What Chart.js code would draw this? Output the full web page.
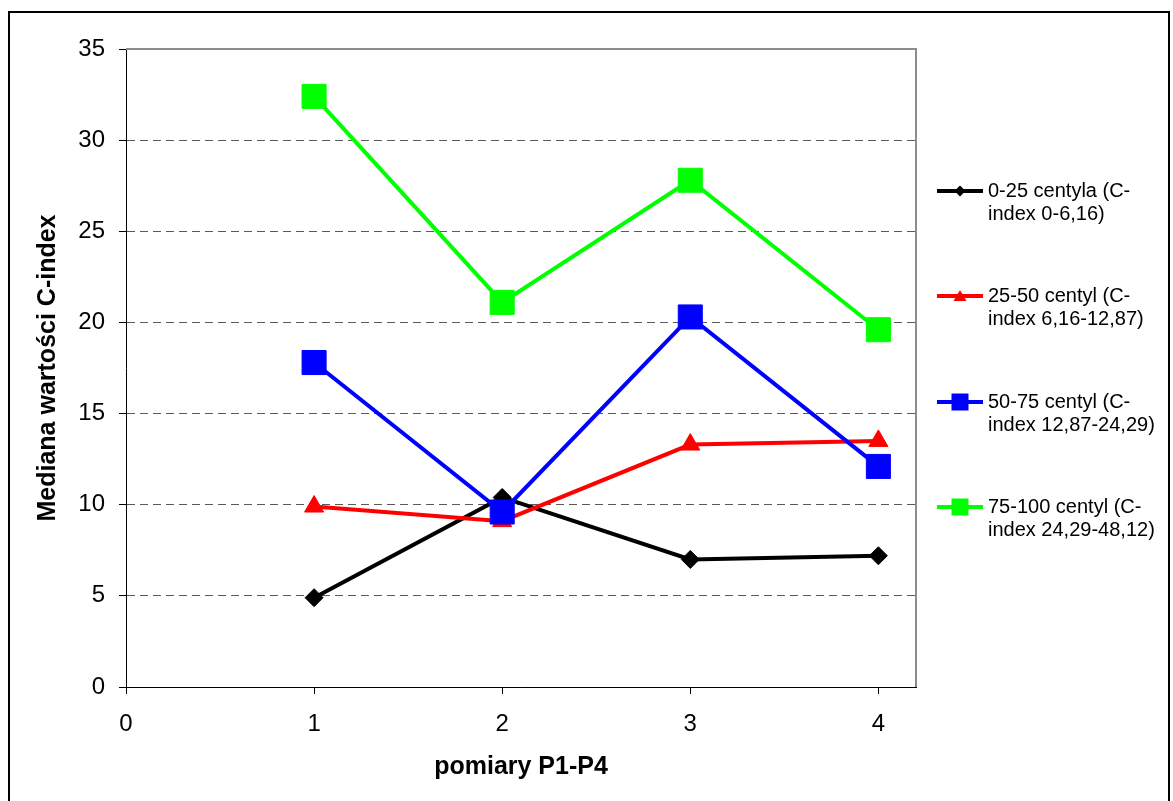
<!DOCTYPE html>
<html lang="pl">
<head>
<meta charset="utf-8">
<script src="https://cdn.jsdelivr.net/npm/chart.js@4/dist/chart.umd.min.js"></script>
<style>
  html, body { margin: 0; padding: 0; background: #fff; overflow: hidden; }
  #wrap { position: relative; width: 1173px; height: 801px; }
  #frame { position: absolute; left: 8px; top: 11px; width: 1162px; height: 830px; border: 2px solid #000; box-sizing: border-box; }
  #chart { position: absolute; left: 0; top: 0; }
  #legend { position: absolute; left: 937px; top: 0; font-family: "Liberation Sans", Arial, sans-serif; font-size: 20px; line-height: 23px; color: #000; }
  .item { position: absolute; left: 0; white-space: nowrap; }
  .item svg { position: absolute; left: 0; top: 0; }
  .item span { position: absolute; left: 51px; top: 0; }
</style>
</head>
<body>
<div id="wrap">
  <div id="frame"></div>
  <canvas id="chart" width="1173" height="801"></canvas>
  <div id="legend"></div>
</div>
<script>
// pomiary P1-P4, mediana C-index w grupach centylowych
const measurements = [1, 2, 3, 4];
const xTicks = [0, 1, 2, 3, 4];
const yTicks = [0, 5, 10, 15, 20, 25, 30, 35];

const c0_25 = [4.9, 10.4, 7.0, 7.2];
const c25_50 = [9.9, 9.1, 13.3, 13.5];
const c50_75 = [17.8, 9.6, 20.3, 12.1];
const c75_100 = [32.4, 21.1, 27.8, 19.6];

const labels0_25 = ["0-25 centyla (C-", "index 0-6,16)"];
const labels25_50 = ["25-50 centyl (C-", "index 6,16-12,87)"];
const labels50_75 = ["50-75 centyl (C-", "index 12,87-24,29)"];
const labels75_100 = ["75-100 centyl (C-", "index 24,29-48,12)"];

const FONT = "Liberation Sans";

const toPoints = vals => measurements.map((x, i) => ({ x: x, y: vals[i] }));

function series(label, vals, color, style, radius, order) {
  return {
    label: label,
    data: toPoints(vals),
    borderColor: color,
    backgroundColor: color,
    borderWidth: 4,
    pointStyle: style,
    pointRadius: radius,
    pointBorderWidth: 1,
    pointBorderColor: color,
    pointBackgroundColor: color,
    tension: 0,
    order: order
  };
}

const datasets = [
  series(labels0_25, c0_25, "#000000", "rectRot", 9, 4),
  series(labels25_50, c25_50, "#ff0000", "triangle", 11, 3),
  series(labels50_75, c50_75, "#0000ff", "rect", 17, 2),
  series(labels75_100, c75_100, "#00ff00", "rect", 17, 1)
];

// grey top/right edges of the plot area
const plotFrame = {
  id: "plotFrame",
  beforeDatasetsDraw(chart) {
    const { ctx, chartArea: a } = chart;
    ctx.save();
    ctx.strokeStyle = "#8c8c8c";
    ctx.lineWidth = 2;
    ctx.beginPath();
    ctx.moveTo(a.left, a.top);
    ctx.lineTo(a.right, a.top);
    ctx.lineTo(a.right, a.bottom);
    ctx.stroke();
    ctx.restore();
  }
};

new Chart(document.getElementById("chart"), {
  type: "line",
  data: { datasets: datasets },
  plugins: [plotFrame],
  options: {
    responsive: false,
    animation: false,
    events: [],
    layout: { padding: { left: 29, right: 257, top: 49, bottom: 15 } },
    plugins: { legend: { display: false }, tooltip: { enabled: false } },
    scales: {
      x: {
        type: "linear",
        min: 0,
        max: 4.2,
        afterBuildTicks: s => { s.ticks = xTicks.map(v => ({ value: v })); },
        afterFit: s => { s.height = 99; },
        grid: { drawOnChartArea: false, tickLength: 7, tickColor: "#000" },
        border: { color: "#000", width: 1 },
        ticks: { color: "#000", padding: 16, maxRotation: 0, font: { family: FONT, size: 24 } },
        title: {
          display: true,
          text: "pomiary P1-P4",
          color: "#000",
          padding: { top: 4, bottom: 4 },
          font: { family: FONT, size: 25, weight: "bold" }
        }
      },
      y: {
        min: 0,
        max: 35,
        afterBuildTicks: s => { s.ticks = yTicks.map(v => ({ value: v })); },
        afterFit: s => { s.width = 97; },
        grid: { color: "#5a5a5a", lineWidth: 1, tickLength: 7, tickColor: "#000" },
        border: { color: "#000", width: 1, dash: [8, 5] },
        ticks: { color: "#000", padding: 14, font: { family: FONT, size: 24 } },
        title: {
          display: true,
          text: "Mediana wartości C-index",
          color: "#000",
          padding: { top: 4, bottom: 4 },
          font: { family: FONT, size: 25, weight: "bold" }
        }
      }
    }
  }
});

// legend on the right, each entry on two lines
const legendTops = [179, 284, 390, 495];
const legendMarks = [
  { color: "#000000", shape: "diamond", size: 11 },
  { color: "#ff0000", shape: "triangle", size: 13 },
  { color: "#0000ff", shape: "square", size: 17 },
  { color: "#00ff00", shape: "square", size: 17 }
];

function markerSvg(m) {
  const cx = 23, cy = 12, h = m.size / 2;
  let shape = "";
  if (m.shape === "diamond") {
    shape = `<polygon points="${cx},${cy - h} ${cx + h},${cy} ${cx},${cy + h} ${cx - h},${cy}" fill="${m.color}"/>`;
  } else if (m.shape === "triangle") {
    shape = `<polygon points="${cx},${cy - 6} ${cx + h},${cy + 5} ${cx - h},${cy + 5}" fill="${m.color}"/>`;
  } else {
    shape = `<rect x="${cx - h}" y="${cy - h}" width="${m.size}" height="${m.size}" fill="${m.color}"/>`;
  }
  return `<svg width="46" height="24" viewBox="0 0 46 24">` +
    `<line x1="0" y1="${cy}" x2="46" y2="${cy}" stroke="${m.color}" stroke-width="4"/>` +
    shape + `</svg>`;
}

const legend = document.getElementById("legend");
datasets.forEach((ds, i) => {
  const item = document.createElement("div");
  item.className = "item";
  item.style.top = legendTops[i] + "px";
  item.innerHTML = markerSvg(legendMarks[i]) + "<span>" + ds.label.join("<br>") + "</span>";
  legend.appendChild(item);
});
</script>
</body>
</html>
